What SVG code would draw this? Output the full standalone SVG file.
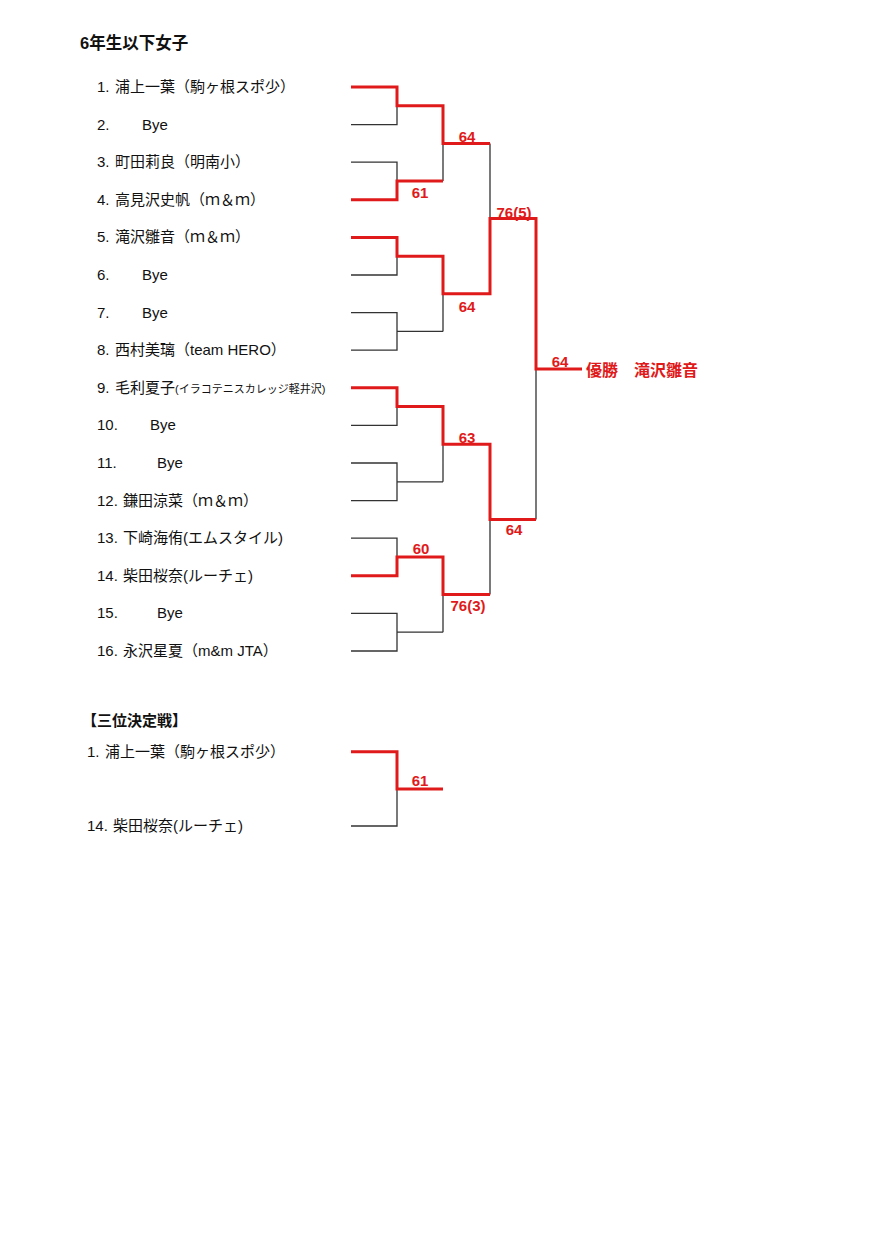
<svg xmlns="http://www.w3.org/2000/svg" width="890" height="1258" viewBox="0 0 890 1258">
<style>
.bg{fill:#ffffff}
.t{font-family:"Liberation Sans","Noto Sans CJK JP",sans-serif;font-size:15px;fill:#111}
.s{font-size:11px}
.h{font-family:"Liberation Sans","Noto Sans CJK JP",sans-serif;font-size:16.5px;font-weight:bold;fill:#111}
.h2{font-family:"Noto Sans CJK JP",sans-serif;font-size:15px;font-weight:bold;fill:#111}
.sc{font-family:"Liberation Sans","Noto Sans CJK JP",sans-serif;font-size:15px;font-weight:bold;fill:#e01a1a;text-anchor:middle}
.win{font-family:"Noto Sans CJK JP",sans-serif;font-size:16px;font-weight:bold;fill:#e01a1a}
.k{fill:none;stroke:#333;stroke-width:1.3}
.r{fill:none;stroke:#e01a1a;stroke-width:3}
</style>
<rect class="bg" x="0" y="0" width="890" height="1258"/>
<text class="h" x="80" y="48.5">6年生以下女子</text>
<g id="entries">
<g id="e1"><text class="t" x="97" y="92">1. <tspan x="115">浦上一葉（駒ヶ根スポ少）</tspan></text></g>
<g id="e2"><text class="t" x="97" y="129.6">2. <tspan x="142">Bye</tspan></text></g>
<g id="e3"><text class="t" x="97" y="167.2">3. <tspan x="115">町田莉良（明南小）</tspan></text></g>
<g id="e4"><text class="t" x="97" y="204.8">4. <tspan x="115">高見沢史帆（ｍ＆ｍ）</tspan></text></g>
<g id="e5"><text class="t" x="97" y="242.4">5. <tspan x="115">滝沢雛音（ｍ＆ｍ）</tspan></text></g>
<g id="e6"><text class="t" x="97" y="280">6. <tspan x="142">Bye</tspan></text></g>
<g id="e7"><text class="t" x="97" y="317.6">7. <tspan x="142">Bye</tspan></text></g>
<g id="e8"><text class="t" x="97" y="355.2">8. <tspan x="115">西村美璃（team HERO）</tspan></text></g>
<g id="e9"><text class="t" x="97" y="392.8">9. <tspan x="115">毛利夏子</tspan><tspan class="s">(イラコテニスカレッジ軽井沢)</tspan></text></g>
<g id="e10"><text class="t" x="97" y="430.4">10. <tspan x="150">Bye</tspan></text></g>
<g id="e11"><text class="t" x="97" y="468">11. <tspan x="157">Bye</tspan></text></g>
<g id="e12"><text class="t" x="97" y="505.6">12. <tspan x="123">鎌田涼菜（ｍ＆ｍ）</tspan></text></g>
<g id="e13"><text class="t" x="97" y="543.2">13. <tspan x="123">下崎海侑(エムスタイル)</tspan></text></g>
<g id="e14"><text class="t" x="97" y="580.8">14. <tspan x="123">柴田桜奈(ルーチェ)</tspan></text></g>
<g id="e15"><text class="t" x="97" y="618.4">15. <tspan x="157">Bye</tspan></text></g>
<g id="e16"><text class="t" x="97" y="656">16. <tspan x="123">永沢星夏（m&amp;m JTA）</tspan></text></g>
</g>
<g id="connectors">
<path class="k" d="M351,124.6H397V105.8 M351,162.2H397V181 M351,275H397V256.2 M351,312.6H397V350.2H351 M397,331.4H443 M351,425.4H397V406.6 M351,463H397V500.6H351 M397,481.8H443 M351,538.2H397V557 M351,613.4H397V651H351 M397,632.2H443 M443,143.4V181 M443,293.8V331.4 M443,444.2V481.8 M443,594.6V632.2 M490,143.4V218.6 M490,519.4V594.6 M536,369V519.4"/>
<path class="r" d="M351,87H397V105.8H443V143.4H490"/>
<path class="r" d="M351,199.8H397V181H443"/>
<path class="r" d="M351,237.4H397V256.2H443V293.8H490V218.6H536V369H582"/>
<path class="r" d="M351,387.8H397V406.6H443V444.2H490V519.4H536"/>
<path class="r" d="M351,575.8H397V557H443V594.6H490"/>
<path class="k" d="M351,826H397V789"/>
<path class="r" d="M351,751.7H397V789H443"/>
</g>
<g id="scores">
<text class="sc" x="467" y="141.5">64</text>
<text class="sc" x="420" y="197.5">61</text>
<text class="sc" x="514" y="217.5">76(5)</text>
<text class="sc" x="467" y="311.5">64</text>
<text class="sc" x="560" y="366.5">64</text>
<text class="sc" x="467" y="442.5">63</text>
<text class="sc" x="514" y="534.5">64</text>
<text class="sc" x="421" y="553.5">60</text>
<text class="sc" x="468" y="610.5">76(3)</text>
<text class="sc" x="420" y="785.5">61</text>
</g>
<g id="winner"><text class="win" x="586" y="375.5">優勝　滝沢雛音</text></g>
<g id="third">
<text class="h2" x="82" y="725.5">【三位決定戦】</text>
<g id="t1"><text class="t" x="87" y="756.7">1. <tspan x="105">浦上一葉（駒ヶ根スポ少）</tspan></text></g>
<g id="t2"><text class="t" x="87" y="831">14. <tspan x="113">柴田桜奈(ルーチェ)</tspan></text></g>
</g>
</svg>
